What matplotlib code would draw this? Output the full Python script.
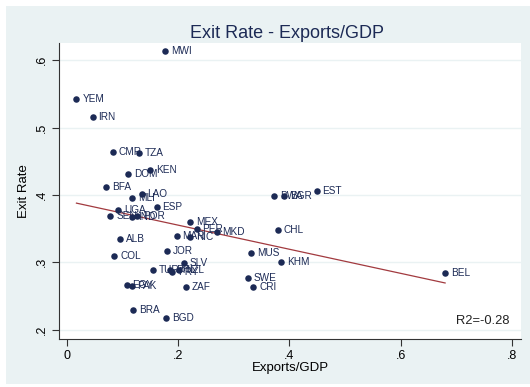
import numpy as np
import matplotlib
matplotlib.use("Agg")
import matplotlib.pyplot as plt
from matplotlib.patches import Rectangle

plt.rcParams['font.family'] = ['Liberation Sans', 'DejaVu Sans']

# Country codes with exports/GDP and exit rate
countries = ["MWI", "YEM", "IRN", "CMR", "TZA", "KEN", "DOM", "BFA", "LAO", "MLI",
             "ESP", "UGA", "SEN", "IND", "POR", "MEX", "PER", "MKD", "MAR", "NIC",
             "ALB", "CHL", "JOR", "MUS", "COL", "SLV", "KHM", "TUR", "PHL", "PRY",
             "NZL", "SWE", "EGY", "PAK", "ZAF", "CRI", "BRA", "BGD", "BEL", "EST",
             "BWA", "BGR"]
exports_gdp = [0.177, 0.017, 0.046, 0.083, 0.130, 0.149, 0.110, 0.071, 0.134, 0.117,
               0.161, 0.092, 0.078, 0.117, 0.126, 0.221, 0.233, 0.269, 0.197, 0.221,
               0.095, 0.379, 0.180, 0.331, 0.085, 0.210, 0.385, 0.155, 0.185, 0.189,
               0.202, 0.325, 0.107, 0.116, 0.214, 0.335, 0.119, 0.178, 0.680, 0.449,
               0.372, 0.390]
exit_rate = [0.613, 0.543, 0.515, 0.464, 0.462, 0.437, 0.431, 0.412, 0.401, 0.396,
             0.382, 0.378, 0.368, 0.367, 0.369, 0.360, 0.350, 0.345, 0.339, 0.337,
             0.335, 0.348, 0.317, 0.314, 0.309, 0.299, 0.301, 0.289, 0.289, 0.285,
             0.288, 0.276, 0.266, 0.265, 0.263, 0.263, 0.229, 0.217, 0.284, 0.406,
             0.399, 0.398]

x_ticks = [0, 0.2, 0.4, 0.6, 0.8]
x_tick_labels = ["0", ".2", ".4", ".6", ".8"]
y_ticks = [0.2, 0.3, 0.4, 0.5, 0.6]
y_tick_labels = [".2", ".3", ".4", ".5", ".6"]
r2_text = "R2=-0.28"

navy = "#1c2a55"
maroon = "#a23a3f"
region_bg = "#eaf2f3"

fig = plt.figure(figsize=(5.30, 3.87), dpi=100, facecolor="white")
# graph region background
fig.patches.append(Rectangle((6 / 530, 3 / 387), 524 / 530, 378 / 387,
                             transform=fig.transFigure, facecolor=region_bg,
                             edgecolor="none", zorder=-5))

ax = fig.add_axes([59 / 530, 48 / 387, 462 / 530, 296 / 387])
ax.set_zorder(1)
ax.set_facecolor("white")

x = np.array(exports_gdp)
y = np.array(exit_rate)

ax.scatter(x, y, s=22, color=navy, zorder=3, linewidths=0)
for name, xi, yi in zip(countries, x, y):
    ax.annotate(name, (xi, yi), xytext=(4.2, 0), textcoords="offset points",
                fontsize=7.2, color=navy, va="center", ha="left", zorder=4)

# linear fit over the observed range
slope, intercept = np.polyfit(x, y, 1)
xs = np.array([x.min(), x.max()])
ax.plot(xs, intercept + slope * xs, color=maroon, lw=0.9, zorder=2)

ax.set_xlim(-0.0144, 0.8165)
ax.set_ylim(0.1862, 0.6254)
ax.set_xticks(x_ticks)
ax.set_xticklabels(x_tick_labels, fontsize=9)
ax.set_yticks(y_ticks)
ax.set_yticklabels(y_tick_labels, fontsize=9, rotation=90, va="center")
ax.tick_params(axis="both", direction="out", length=5, width=0.8, color="#333333",
               pad=3)
ax.grid(axis="y", color=region_bg, lw=1.0, zorder=0)
ax.set_axisbelow(True)
for side in ("top", "right"):
    ax.spines[side].set_visible(False)
for side in ("left", "bottom"):
    ax.spines[side].set_color("#333333")
    ax.spines[side].set_linewidth(0.8)

ax.set_xlabel("Exports/GDP", fontsize=9.5, labelpad=0)
ax.set_ylabel("Exit Rate", fontsize=9.5, labelpad=4)
ax.text(0.976, 0.061, r2_text, transform=ax.transAxes, ha="right", va="center",
        fontsize=9.3, color="#222222")

fig.text(287 / 530, 1 - 33 / 387, "Exit Rate - Exports/GDP", ha="center",
         va="center", fontsize=13, color="#1c2a55")

fig.savefig("out.png", dpi=100, facecolor=fig.get_facecolor())
